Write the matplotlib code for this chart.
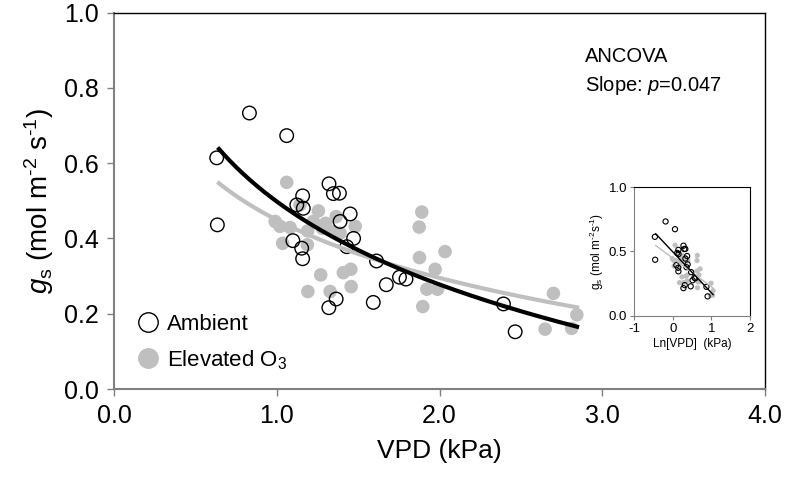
import numpy as np
import matplotlib
matplotlib.use("Agg")
import matplotlib.pyplot as plt
from matplotlib.lines import Line2D

plt.rcParams['font.family'] = ['Liberation Sans', 'DejaVu Sans']
plt.rcParams['mathtext.fontset'] = 'custom'
plt.rcParams['mathtext.rm'] = 'Liberation Sans'
plt.rcParams['mathtext.it'] = 'Liberation Sans:italic'
plt.rcParams['axes.unicode_minus'] = False

# ambient plots (open circles)
amb_vpd = [0.631, 0.635, 0.832, 1.061, 1.123, 1.159, 1.163, 1.099, 1.153, 1.159,
           1.321, 1.348, 1.385, 1.389, 1.451, 1.472, 1.430, 1.365, 1.320, 1.613,
           1.593, 1.673, 1.754, 1.794, 2.393, 2.465]
amb_gs = [0.614, 0.436, 0.733, 0.673, 0.489, 0.513, 0.480, 0.394, 0.374, 0.346,
          0.545, 0.519, 0.520, 0.445, 0.465, 0.400, 0.378, 0.239, 0.216, 0.340,
          0.230, 0.277, 0.297, 0.292, 0.226, 0.152]

# elevated O3 plots (grey filled)
elev_vpd = [1.061, 1.143, 1.256, 1.365, 1.482, 0.990, 1.020, 1.082, 1.225, 1.280,
            1.348, 1.389, 1.036, 1.188, 1.270, 1.409, 1.455, 1.191, 1.328, 1.457,
            1.891, 1.875, 1.877, 2.034, 1.973, 1.922, 1.988, 1.897, 2.700, 2.844,
            2.649, 2.812, 1.300, 1.190]
elev_gs = [0.549, 0.489, 0.473, 0.458, 0.432, 0.445, 0.432, 0.429, 0.445, 0.427,
           0.418, 0.414, 0.387, 0.383, 0.303, 0.309, 0.318, 0.259, 0.259, 0.272,
           0.470, 0.430, 0.349, 0.365, 0.318, 0.265, 0.265, 0.219, 0.254, 0.197,
           0.159, 0.161, 0.440, 0.420]

# log fits gs = a + b*ln(VPD)
amb_fit = (0.498, -0.318)
elev_fit = (0.449, -0.222)
fit_range = (0.645, 2.845)

grey = '#bfbfbf'
axcol = '#808080'

fig = plt.figure(figsize=(7.88, 4.83), dpi=100)
ax = fig.add_axes([0.1447, 0.1946, 0.8261, 0.7795])

ax.scatter(elev_vpd, elev_gs, s=95, color=grey, edgecolors='none', zorder=2)
ax.scatter(amb_vpd, amb_gs, s=95, facecolors='none', edgecolors='black', linewidths=1, zorder=3)

xf = np.linspace(fit_range[0], fit_range[1], 200)
ax.plot(xf, elev_fit[0] + elev_fit[1] * np.log(xf), color=grey, lw=3, zorder=4)
ax.plot(xf, amb_fit[0] + amb_fit[1] * np.log(xf), color='black', lw=3, zorder=5)

ax.set_xlim(0, 4)
ax.set_ylim(0, 1)
ax.set_xticks([0, 1, 2, 3, 4])
ax.set_xticklabels(['0.0', '1.0', '2.0', '3.0', '4.0'])
ax.set_yticks([0, 0.2, 0.4, 0.6, 0.8, 1.0])
ax.set_yticklabels(['0.0', '0.2', '0.4', '0.6', '0.8', '1.0'])
ax.tick_params(labelsize=18, length=5, width=1, color=axcol, direction='out', pad=6)
ax.spines['left'].set_color(axcol)
ax.spines['bottom'].set_color(axcol)
ax.spines['left'].set_linewidth(1.5)
ax.spines['bottom'].set_linewidth(1.5)
ax.spines['top'].set_color('black')
ax.spines['right'].set_color('black')
ax.spines['top'].set_linewidth(1)
ax.spines['right'].set_linewidth(1)
ax.set_xlabel('VPD (kPa)', fontsize=19, labelpad=8)
ax.set_ylabel(r'$g_\mathrm{s}$ (mol m$^{\text{-}2}$ s$^{\text{-}1}$)', fontsize=20, labelpad=6)

ax.text(0.7235, 0.882, 'ANCOVA', transform=ax.transAxes, fontsize=14.5, va='center')
ax.text(0.7235, 0.807, r'Slope: $p$=0.047', transform=ax.transAxes, fontsize=14.5, va='center')

handles = [Line2D([], [], marker='o', ls='none', markersize=14, markerfacecolor='white',
                  markeredgecolor='black', markeredgewidth=1),
           Line2D([], [], marker='o', ls='none', markersize=14, markerfacecolor=grey,
                  markeredgecolor=grey)]
ax.legend(handles, ['Ambient', r'Elevated O$_3$'], loc='lower left', bbox_to_anchor=(0.008, 0.005),
          frameon=False, fontsize=16, handletextpad=0.25, labelspacing=0.6, borderaxespad=0.3,
          handlelength=1.2)

# inset: ln(VPD)
ins = fig.add_axes([0.8046, 0.3458, 0.1472, 0.267])
ins.scatter(np.log(elev_vpd), elev_gs, s=14, color=grey, edgecolors='none', zorder=2)
ins.scatter(np.log(amb_vpd), amb_gs, s=14, facecolors='none', edgecolors='black', linewidths=0.8, zorder=3)
lf = np.log(xf)
ins.plot(lf, elev_fit[0] + elev_fit[1] * lf, color=grey, lw=1, zorder=4)
ins.plot(lf, amb_fit[0] + amb_fit[1] * lf, color='black', lw=1, zorder=5)
ins.set_xlim(-1, 2)
ins.set_ylim(0, 1)
ins.set_xticks([-1, 0, 1, 2])
ins.set_yticks([0, 0.5, 1.0])
ins.set_yticklabels(['0.0', '0.5', '1.0'])
ins.tick_params(labelsize=9.5, length=3, width=0.8, color=axcol, pad=2)
for sp in ins.spines.values():
    sp.set_linewidth(0.8)
ins.spines['left'].set_color(axcol)
ins.spines['bottom'].set_color(axcol)
ins.set_xlabel('Ln[VPD]  (kPa)', fontsize=8.5, labelpad=2)
ins.set_ylabel(r'g$_\mathrm{s}$ (mol m$^{\text{-}2}$s$^{\text{-}1}$)', fontsize=8.5, labelpad=2)

fig.savefig('out.png', dpi=100)
